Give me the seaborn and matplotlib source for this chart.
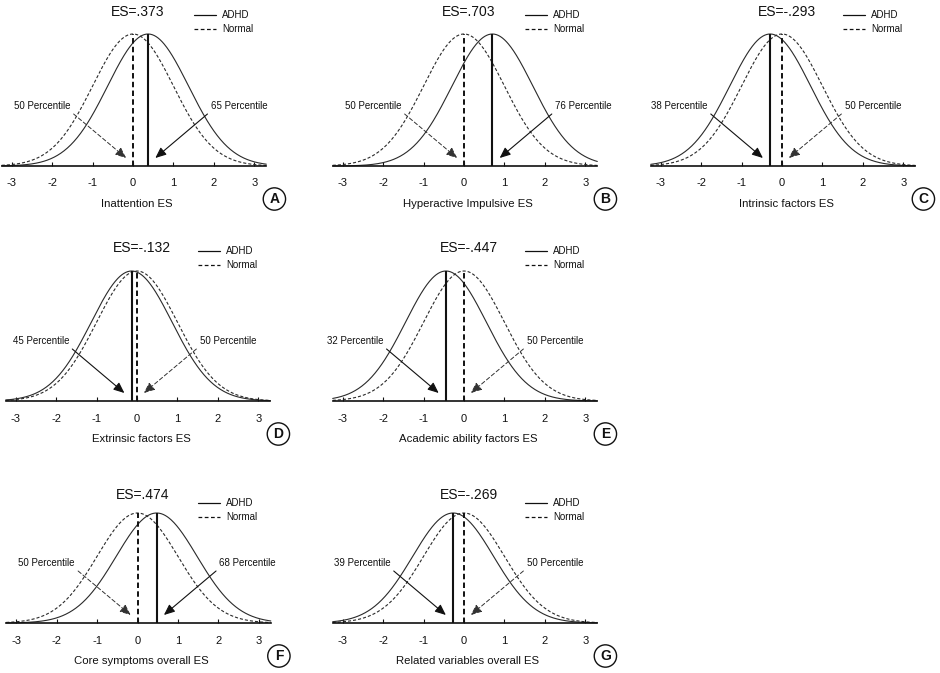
import numpy as np
import pandas as pd
import matplotlib
matplotlib.use("Agg")
import matplotlib.pyplot as plt
import seaborn as sns

# ---------------- data ----------------
panels = ["A", "B", "C", "D", "E", "F", "G"]
effect_sizes = [0.373, 0.703, -0.293, -0.132, -0.447, 0.474, -0.269]
es_labels = ["ES=.373", "ES=.703", "ES=-.293", "ES=-.132", "ES=-.447", "ES=.474", "ES=-.269"]
adhd_percentiles = [65, 76, 38, 45, 32, 68, 39]
normal_percentiles = [50, 50, 50, 50, 50, 50, 50]
x_labels = ["Inattention ES", "Hyperactive Impulsive ES", "Intrinsic factors ES",
            "Extrinsic factors ES", "Academic ability factors ES",
            "Core symptoms overall ES", "Related variables overall ES"]
tick_values = [-3, -2, -1, 0, 1, 2, 3]
tick_labels = ["-3", "-2", "-1", "0", "1", "2", "3"]
series_names = ["ADHD", "Normal"]

# ---------------- style ----------------
sns.set_theme(style="white")
plt.rcParams["font.family"] = ["Liberation Sans", "DejaVu Sans"]
plt.rcParams["axes.unicode_minus"] = False

W, H = 940, 673
fig = plt.figure(figsize=(W / 100, H / 100), dpi=100)

PX = 40.4
XMIN, XMAX = -3.25, 3.3
rows = [
    dict(base=166, peak=34, title=12, leg1=15, leg2=29, x0=[133, 464, 782]),
    dict(base=401, peak=271, title=248, leg1=251, leg2=265, x0=[137, 464]),
    dict(base=623, peak=513, title=495, leg1=503, leg2=517, x0=[137.5, 464]),
]
grid = [(0, 0), (0, 1), (0, 2), (1, 0), (1, 1), (2, 0), (2, 1)]

def pdf(x, m):
    return np.exp(-0.5 * (x - m) ** 2) / np.sqrt(2 * np.pi)

YMAX = pdf(0, 0)
CURVE = "#2a2a2a"
INK = "#111111"

for i, letter in enumerate(panels):
    ri, ci = grid[i]
    r = rows[ri]
    x0 = r["x0"][ci]
    left = x0 + XMIN * PX
    hpx = r["base"] - r["peak"]
    ax = fig.add_axes([left / W, 1 - r["base"] / H, (XMAX - XMIN) * PX / W, hpx / H])
    ax.set_facecolor("none")

    def py(ypx):
        return (r["base"] - ypx) / hpx * YMAX

    es = effect_sizes[i]
    xs = np.linspace(XMIN, XMAX, 400)
    df = pd.DataFrame({
        "x": np.concatenate([xs, xs]),
        "y": np.concatenate([pdf(xs, es), pdf(xs, 0)]),
        "group": [series_names[0]] * len(xs) + [series_names[1]] * len(xs),
    })
    sns.lineplot(data=df, x="x", y="y", hue="group", style="group",
                 palette={"ADHD": CURVE, "Normal": CURVE},
                 dashes={"ADHD": "", "Normal": (2.8, 1.8)},
                 linewidth=0.8, legend=False, ax=ax, clip_on=False)

    # vertical mean lines
    ax.plot([es, es], [0, pdf(es, es)], color=INK, lw=1.5, solid_capstyle="butt")
    ax.plot([0, 0], [0, YMAX], color=INK, lw=1.4, dashes=(2.8, 1.7))

    ax.set_xlim(XMIN, XMAX)
    ax.set_ylim(0, YMAX)
    for sp in ["top", "left", "right"]:
        ax.spines[sp].set_visible(False)
    ax.spines["bottom"].set_color(INK)
    ax.spines["bottom"].set_linewidth(1.2)
    ax.set_xticks(tick_values)
    ax.set_xticklabels(tick_labels)
    ax.set_yticks([])
    ax.tick_params(axis="x", direction="in", length=3, width=0.8, color=INK,
                   labelsize=8, pad=9, bottom=True, labelcolor=INK)
    ax.set_xlabel("")
    ax.set_ylabel("")

    # title
    ax.text(0.12, py(r["title"]), es_labels[i], ha="center", va="center",
            fontsize=10, color=INK, clip_on=False)
    # legend
    ax.plot([1.5, 2.05], [py(r["leg1"])] * 2, color=INK, lw=0.9, clip_on=False)
    ax.plot([1.5, 2.05], [py(r["leg2"])] * 2, color=INK, lw=0.9, dashes=(3, 2), clip_on=False)
    ax.text(2.2, py(r["leg1"]), series_names[0], ha="left", va="center", fontsize=7, color=INK)
    ax.text(2.2, py(r["leg2"]), series_names[1], ha="left", va="center", fontsize=7, color=INK)

    # percentile annotations
    s = 1 if es > 0 else -1
    y_txt = py(r["base"] - 60)
    y_st = py(r["base"] - 52)
    y_end = py(r["base"] - 8)
    tx_adhd = es + s * 2.25
    tx_norm = -s * 2.25
    ax.text(tx_adhd, y_txt, f"{adhd_percentiles[i]} Percentile", ha="center", va="center",
            fontsize=7, color=INK)
    ax.text(tx_norm, y_txt, f"{normal_percentiles[i]} Percentile", ha="center", va="center",
            fontsize=7, color=INK)
    ax.annotate("", xy=(es + s * 0.18, y_end), xytext=(tx_adhd - s * 0.78, y_st),
                arrowprops=dict(arrowstyle="-|>,head_length=0.65,head_width=0.28",
                                mutation_scale=10, color=INK, lw=0.8,
                                shrinkA=0, shrinkB=0), annotation_clip=False)
    ax.annotate("", xy=(-s * 0.17, y_end), xytext=(tx_norm + s * 0.78, y_st),
                arrowprops=dict(arrowstyle="-|>,head_length=0.65,head_width=0.28",
                                mutation_scale=10, color="#333333", lw=0.7, linestyle=(0, (4, 2.5)),
                                shrinkA=0, shrinkB=0), annotation_clip=False)

    # x label and panel letter
    ax.text(0.1, py(r["base"] + 38), x_labels[i], ha="center", va="center",
            fontsize=8.2, color=INK, clip_on=False)
    ax.text(3.5, py(r["base"] + 33), letter, ha="center", va="center", fontsize=10,
            fontweight="bold", color=INK,
            bbox=dict(boxstyle="circle,pad=0.3", fc="white", ec=INK, lw=1.0), clip_on=False)

fig.savefig("out.png", dpi=100)
